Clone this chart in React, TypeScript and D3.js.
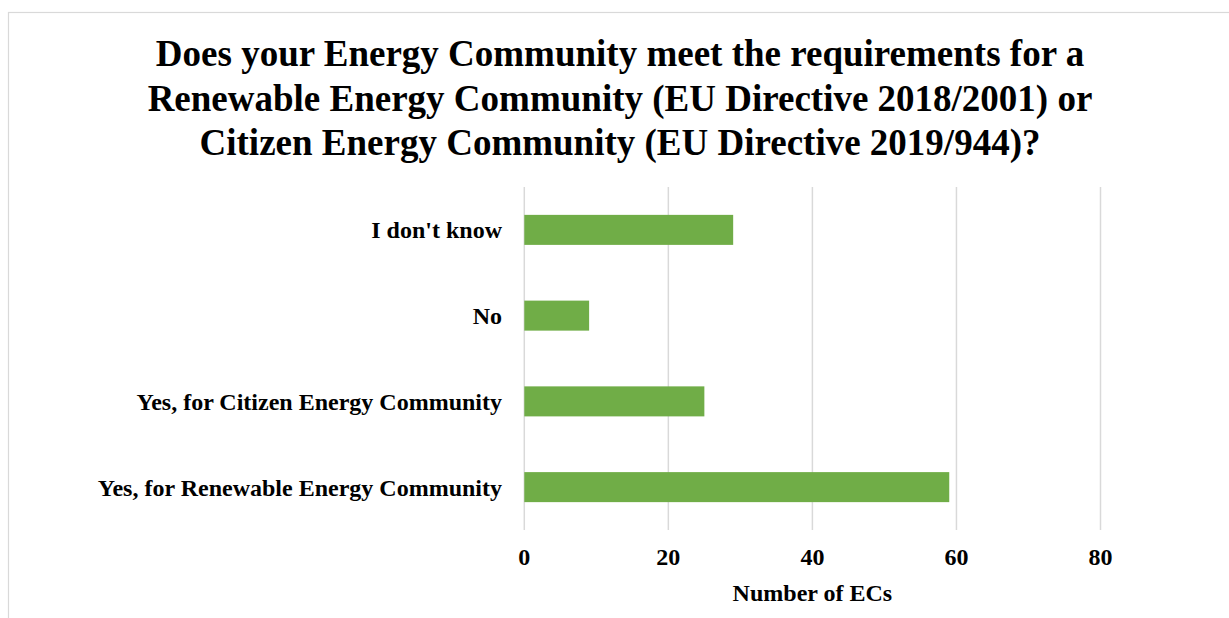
import { scaleLinear, scaleBand } from "d3";

const categories = [
  "I don't know",
  "No",
  "Yes, for Citizen Energy Community",
  "Yes, for Renewable Energy Community",
];
const counts = [29, 9, 25, 59];
const xTicks = [0, 20, 40, 60, 80];
const titleLines = [
  "Does your Energy Community meet the requirements for a",
  "Renewable Energy Community (EU Directive 2018/2001) or",
  "Citizen Energy Community (EU Directive 2019/944)?",
];
const axisTitle = "Number of ECs";

const width = 1229;
const height = 618;
const font = "'Liberation Serif', 'Times New Roman', serif";

export default function App() {
  const x = scaleLinear().domain([0, 80]).range([524.3, 1100.5]);
  const y = scaleBand<string>()
    .domain(categories)
    .range([187, 530])
    .paddingInner(0.65)
    .paddingOuter(0.325);

  return (
    <svg
      width={width}
      height={height}
      viewBox={`0 0 ${width} ${height}`}
      style={{ position: "fixed", left: 0, top: 0, background: "#fff" }}
    >
      <rect x={0} y={0} width={width} height={height} fill="#fff" />
      {/* chart frame, cut off at right/bottom */}
      <rect
        x={8.5}
        y={12.5}
        width={1240}
        height={640}
        fill="none"
        stroke="#d9d9d9"
        strokeWidth={1.2}
      />

      {titleLines.map((t, i) => (
        <text
          key={i}
          x={620}
          y={66 + i * 44.5}
          textAnchor="middle"
          fontFamily={font}
          fontWeight="bold"
          fontSize={37}
          fill="#000"
        >
          {t}
        </text>
      ))}

      {xTicks.map((t) => (
        <g key={t}>
          <line
            x1={x(t)}
            x2={x(t)}
            y1={187}
            y2={530}
            stroke="#d9d9d9"
            strokeWidth={1.5}
          />
          <text
            x={x(t)}
            y={565}
            textAnchor="middle"
            fontFamily={font}
            fontWeight="bold"
            fontSize={24}
            fill="#000"
          >
            {t}
          </text>
        </g>
      ))}

      {categories.map((c, i) => (
        <g key={c}>
          <rect
            x={x(0)}
            y={y(c)!}
            width={x(counts[i]) - x(0)}
            height={y.bandwidth()}
            fill="#70ad47"
          />
          <text
            x={502}
            y={y(c)! + y.bandwidth() / 2}
            dy="0.35em"
            textAnchor="end"
            fontFamily={font}
            fontWeight="bold"
            fontSize={24}
            fill="#000"
          >
            {c}
          </text>
        </g>
      ))}

      <text
        x={(x(0) + x(80)) / 2}
        y={601}
        textAnchor="middle"
        fontFamily={font}
        fontWeight="bold"
        fontSize={24}
        fill="#000"
      >
        {axisTitle}
      </text>
    </svg>
  );
}
